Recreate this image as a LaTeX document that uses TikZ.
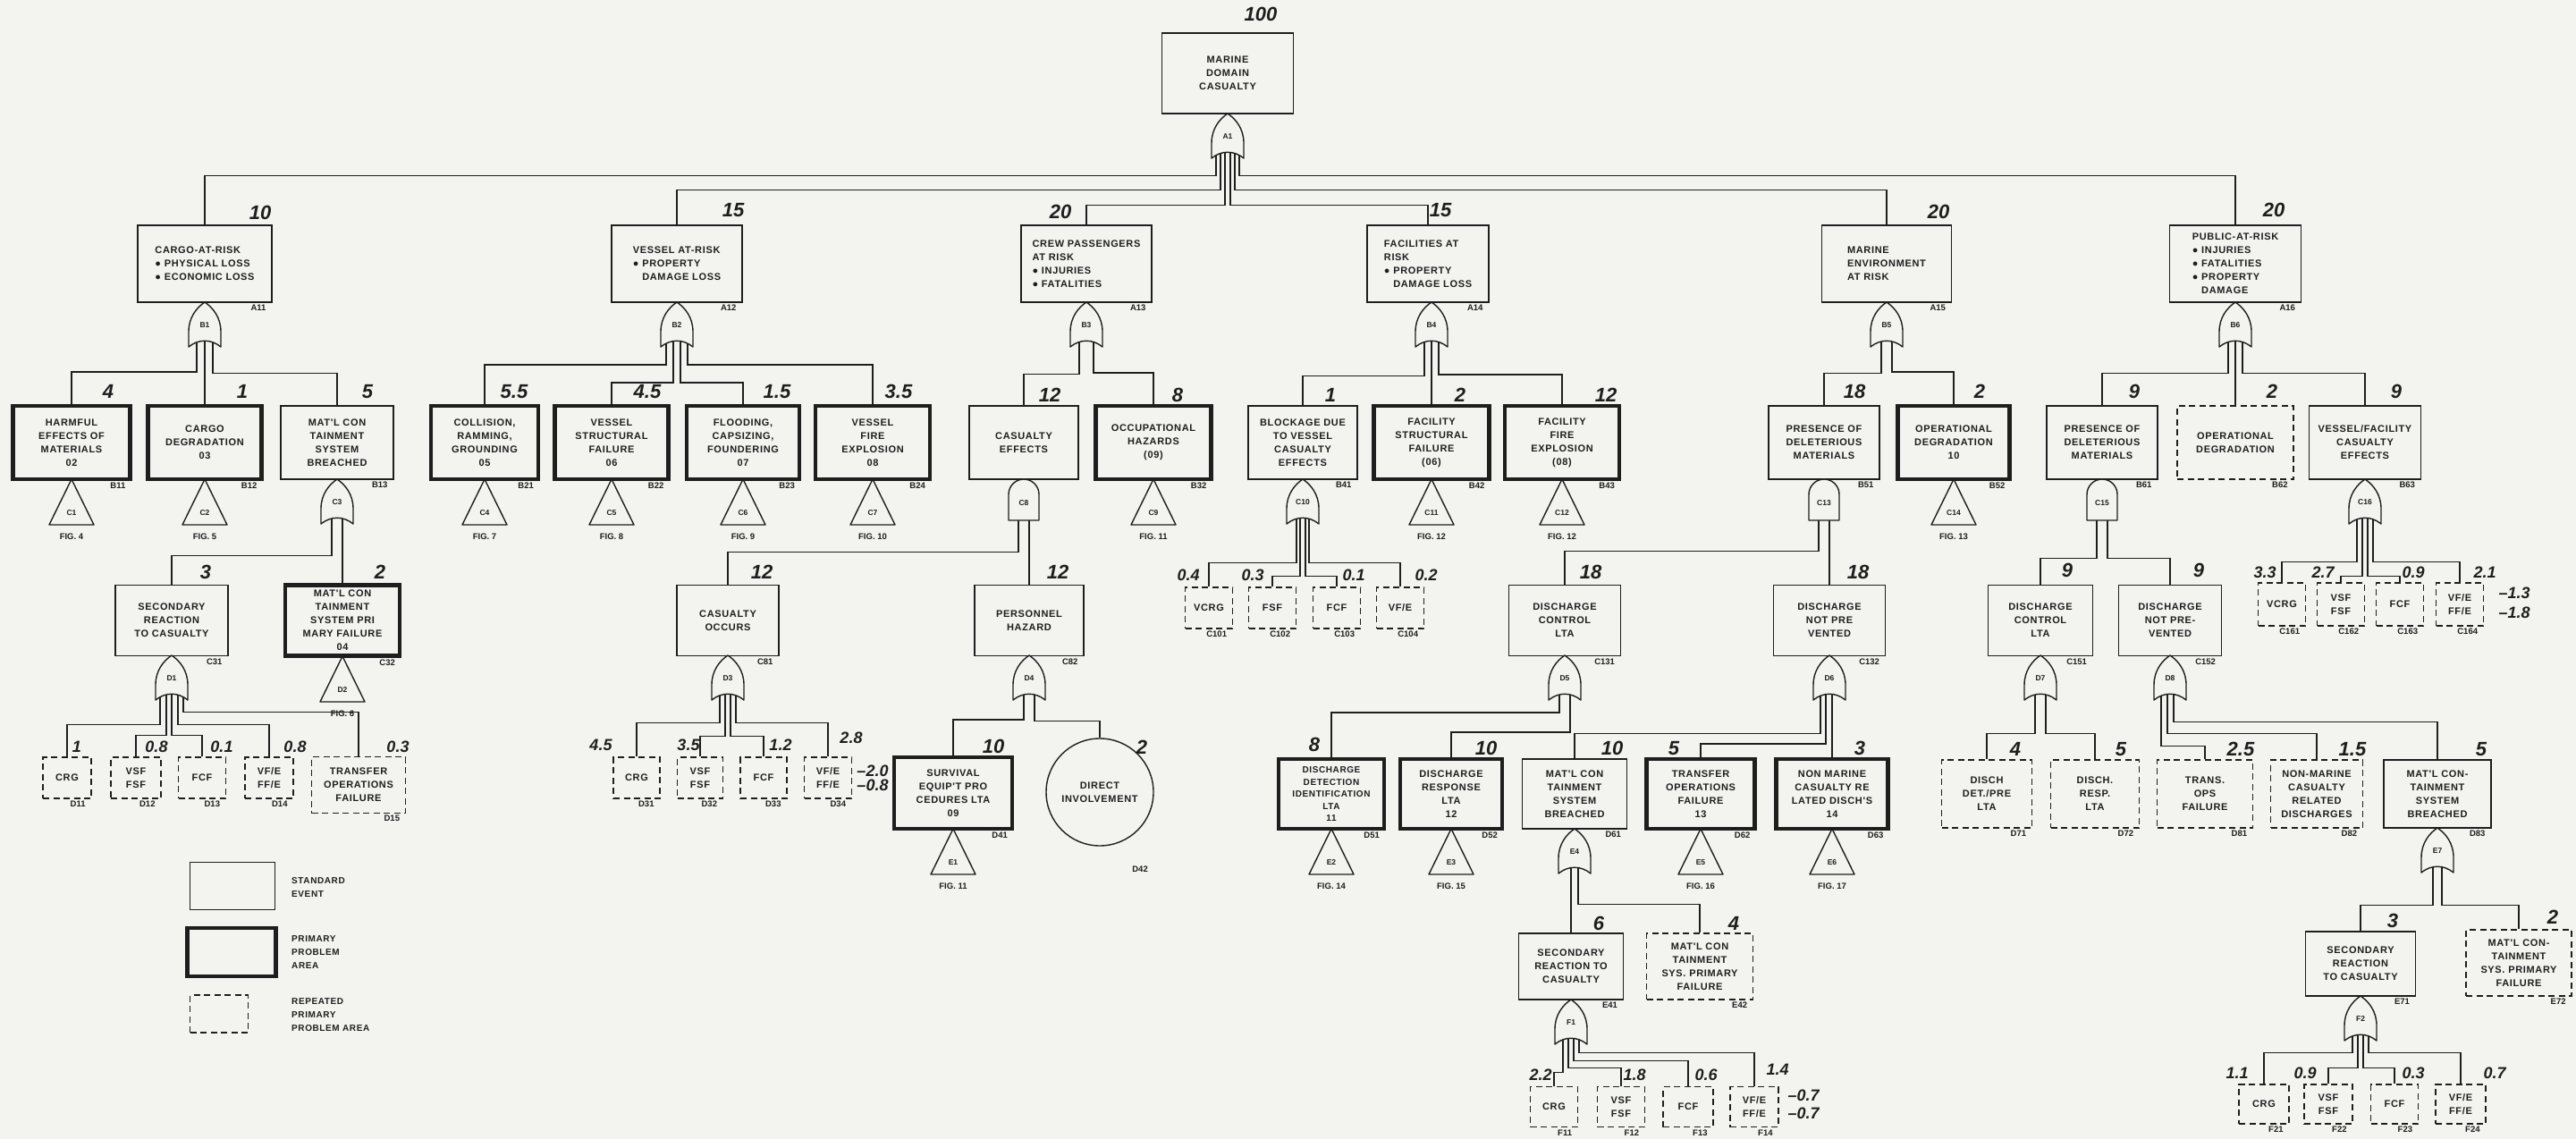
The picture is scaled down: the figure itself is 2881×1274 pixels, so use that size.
\documentclass[tikz,border=0pt]{standalone}
\usepackage{fontspec}
\setmainfont{Liberation Sans}
\newfontfamily\boxfont[LetterSpace=6]{Liberation Sans}
\newfontfamily\handfont{Liberation Sans}
\usepackage{tikz}
\definecolor{ink}{RGB}{30,30,30}
\definecolor{paper}{RGB}{243,243,240}
\pgfdeclarelayer{paperlayer}
\pgfdeclarelayer{wires}
\pgfsetlayers{paperlayer,wires,main}

% OR gate: name, x and y of its centre
\newcommand{\orgate}[3]{%
  \draw[gate] (#2-18,#3+25) -- (#2-18,#3+8)
    .. controls (#2-18,#3-8) and (#2-9,#3-19) .. (#2,#3-25)
    .. controls (#2+9,#3-19) and (#2+18,#3-8) .. (#2+18,#3+8)
    -- (#2+18,#3+25) .. controls (#2+7,#3+16) and (#2-7,#3+16) .. cycle;
  \node[gatelab] (#1) at (#2,#3+1) {#1};
  \coordinate (#1-out) at (#2,#3+12);}
% AND gate: name, x and y of its centre
\newcommand{\andgate}[3]{%
  \draw[gate] (#2-17,#3+23) -- (#2-17,#3-6)
    arc[start angle=180, end angle=0, radius=17pt] -- (#2+17,#3+23) -- cycle;
  \node[gatelab] (#1) at (#2,#3+4) {#1};
  \coordinate (#1-out) at (#2,#3+12);}
% transfer triangle: name, x and y of the apex, figure
\newcommand{\xfer}[4]{%
  \draw[gate] (#2,#3) -- (#2+25,#3+51) -- (#2-25,#3+51) -- cycle;
  \node[gatelab] (#1) at (#2,#3+38) {#1};
  \node[figlab] (#1-fig) at (#2,#3+64) {#4};}
% leg of a gate: gate, offset, height of the bus above the event, event
\newcommand{\gateleg}[4]{%
  \begin{pgfonlayer}{wires}
    \draw[wire] ([xshift=#2pt]#1-out) |- ([yshift=#3pt]#4.north) -- (#4.north);
  \end{pgfonlayer}}

\begin{document}
\begin{tikzpicture}[x=1pt, y=-1pt,
  wire/.style={draw=ink, line width=1.3pt},
  gate/.style={draw=ink, line width=1.4pt, fill=paper, line join=round},
  ev/.style={draw=ink, line width=1.4pt, inner sep=3pt, align=center, text=ink,
    font=\boxfont\bfseries\fontsize{11}{15}\selectfont},
  ppa/.style={ev, line width=4.2pt},
  rep/.style={ev, line width=1.5pt, dash pattern=on 7pt off 4.5pt},
  sz/.style 2 args={minimum width=#1pt, minimum height=#2pt},
  tag/.style={anchor=north east, xshift=-5pt, inner sep=2pt, text=ink,
    font=\bfseries\fontsize{9.5}{9.5}\selectfont},
  code/.style={label={[tag, name=#1-tag]south east:#1}},
  gatelab/.style={inner sep=0pt, text=ink, font=\bfseries\fontsize{8.5}{8.5}\selectfont},
  figlab/.style={inner sep=0pt, text=ink, font=\bfseries\fontsize{9.5}{9.5}\selectfont},
  hand/.style={inner sep=0pt, text=ink, font=\handfont\bfseries\itshape\fontsize{22}{22}\selectfont},
  handsm/.style={hand, font=\handfont\bfseries\itshape\fontsize{18}{18}\selectfont},
  keytext/.style={anchor=west, align=left, inner sep=0pt, text=ink,
    font=\boxfont\bfseries\fontsize{10}{15}\selectfont}]
\useasboundingbox (0,0) rectangle (2881,1274);
\begin{pgfonlayer}{paperlayer}
  \fill[paper] (0,0) rectangle (2881,1274);
\end{pgfonlayer}

% top event
\node[ev, sz={147}{90}] (top) at (1373,82) {MARINE\\DOMAIN\\CASUALTY};
\orgate{A1}{1373}{152}

% first level
\node[ev, sz={150}{86}, align=left, code=A11] (A11) at (229,295) {CARGO-AT-RISK\\● PHYSICAL LOSS\\● ECONOMIC LOSS};
\node[ev, sz={146}{86}, align=left, code=A12] (A12) at (757,295) {VESSEL AT-RISK\\● PROPERTY\\\phantom{● }DAMAGE LOSS};
\node[ev, sz={146}{86}, align=left, code=A13] (A13) at (1215,295) {CREW PASSENGERS\\AT RISK\\● INJURIES\\● FATALITIES};
\node[ev, sz={136}{86}, align=left, code=A14] (A14) at (1597,295) {FACILITIES AT\\RISK\\● PROPERTY\\\phantom{● }DAMAGE LOSS};
\node[ev, sz={145}{86}, align=left, code=A15] (A15) at (2110,295) {MARINE\\ENVIRONMENT\\AT RISK};
\node[ev, sz={147}{86}, align=left, code=A16] (A16) at (2500,295) {PUBLIC-AT-RISK\\● INJURIES\\● FATALITIES\\● PROPERTY\\\phantom{● }DAMAGE};
\gateleg{A1}{-13}{55}{A11}
\gateleg{A1}{-8}{39}{A12}
\gateleg{A1}{-3}{22}{A13}
\gateleg{A1}{3}{22}{A14}
\gateleg{A1}{8}{39}{A15}
\gateleg{A1}{13}{55}{A16}

\orgate{B1}{229}{363}
\orgate{B2}{757}{363}
\orgate{B3}{1215}{363}
\orgate{B4}{1601}{363}
\orgate{B5}{2110}{363}
\orgate{B6}{2500}{363}

% second level
\node[ppa, sz={131}{82}, code=B11] (B11) at (80,495) {HARMFUL\\EFFECTS OF\\MATERIALS\\02};
\node[ppa, sz={127}{82}, code=B12] (B12) at (229,495) {CARGO\\DEGRADATION\\03};
\node[ev, sz={126}{82}, code=B13] (B13) at (377,495) {MAT'L CON\\TAINMENT\\SYSTEM\\BREACHED};
\node[ppa, sz={120}{82}, code=B21] (B21) at (542,495) {COLLISION,\\RAMMING,\\GROUNDING\\05};
\node[ppa, sz={127}{82}, code=B22] (B22) at (684,495) {VESSEL\\STRUCTURAL\\FAILURE\\06};
\node[ppa, sz={126}{82}, code=B23] (B23) at (831,495) {FLOODING,\\CAPSIZING,\\FOUNDERING\\07};
\node[ppa, sz={128}{82}, code=B24] (B24) at (976,495) {VESSEL\\FIRE\\EXPLOSION\\08};
\node[ev, sz={122}{82}] (B31) at (1145,495) {CASUALTY\\EFFECTS};
\node[ppa, sz={129}{82}, code=B32] (B32) at (1290,495) {OCCUPATIONAL\\HAZARDS\\(09)};
\node[ev, sz={122}{82}, code=B41] (B41) at (1457,495) {BLOCKAGE DUE\\TO VESSEL\\CASUALTY\\EFFECTS};
\node[ppa, sz={129}{82}, code=B42] (B42) at (1601,495) {FACILITY\\STRUCTURAL\\FAILURE\\(06)};
\node[ppa, sz={128}{82}, code=B43] (B43) at (1747,495) {FACILITY\\FIRE\\EXPLOSION\\(08)};
\node[ev, sz={124}{82}, code=B51] (B51) at (2040,495) {PRESENCE OF\\DELETERIOUS\\MATERIALS};
\node[ppa, sz={125}{82}, code=B52] (B52) at (2185,495) {OPERATIONAL\\DEGRADATION\\10};
\node[ev, sz={124}{82}, code=B61] (B61) at (2351,495) {PRESENCE OF\\DELETERIOUS\\MATERIALS};
\node[rep, sz={130}{82}, code=B62] (B62) at (2500,495) {OPERATIONAL\\DEGRADATION};
\node[ev, sz={125}{82}, code=B63] (B63) at (2645,495) {VESSEL/FACILITY\\CASUALTY\\EFFECTS};
\gateleg{B1}{-9}{36}{B11}
\gateleg{B1}{0}{0}{B12}
\gateleg{B1}{9}{36}{B13}
\gateleg{B2}{-12}{44}{B21}
\gateleg{B2}{-4}{24}{B22}
\gateleg{B2}{4}{24}{B23}
\gateleg{B2}{12}{44}{B24}
\gateleg{B3}{-8}{35}{B31}
\gateleg{B3}{8}{35}{B32}
\gateleg{B4}{-8}{33}{B41}
\gateleg{B4}{0}{0}{B42}
\gateleg{B4}{8}{33}{B43}
\gateleg{B5}{-6}{36}{B51}
\gateleg{B5}{6}{36}{B52}
\gateleg{B6}{-8}{36}{B61}
\gateleg{B6}{0}{0}{B62}
\gateleg{B6}{8}{36}{B63}

\xfer{C1}{80}{536}{FIG. 4}
\xfer{C2}{229}{536}{FIG. 5}
\xfer{C4}{542}{536}{FIG. 7}
\xfer{C5}{684}{536}{FIG. 8}
\xfer{C6}{831}{536}{FIG. 9}
\xfer{C7}{976}{536}{FIG. 10}
\xfer{C9}{1290}{536}{FIG. 11}
\xfer{C11}{1601}{536}{FIG. 12}
\xfer{C12}{1747}{536}{FIG. 12}
\xfer{C14}{2185}{536}{FIG. 13}
\orgate{C3}{377}{561}
\andgate{C8}{1145}{559}
\orgate{C10}{1457}{561}
\andgate{C13}{2040}{559}
\andgate{C15}{2351}{559}
\orgate{C16}{2645}{561}

% third level
\node[ev, sz={126}{79}, code=C31] (C31) at (192,694) {SECONDARY\\REACTION\\TO CASUALTY};
\node[ppa, sz={128}{79}, code=C32] (C32) at (383,694) {MAT'L CON\\TAINMENT\\SYSTEM PRI\\MARY FAILURE\\04};
\node[ev, sz={114}{79}, code=C81] (C81) at (814,694) {CASUALTY\\OCCURS};
\node[ev, sz={122}{79}, code=C82] (C82) at (1151,694) {PERSONNEL\\HAZARD};
\node[rep, sz={53}{46}, code=C101] (C101) at (1352,680) {VCRG};
\node[rep, sz={53}{46}, code=C102] (C102) at (1423,680) {FSF};
\node[rep, sz={53}{46}, code=C103] (C103) at (1495,680) {FCF};
\node[rep, sz={53}{46}, code=C104] (C104) at (1566,680) {VF/E};
\node[ev, sz={125}{79}, code=C131] (C131) at (1750,694) {DISCHARGE\\CONTROL\\LTA};
\node[ev, sz={125}{79}, code=C132] (C132) at (2046,694) {DISCHARGE\\NOT PRE\\VENTED};
\node[ev, sz={117}{79}, code=C151] (C151) at (2282,694) {DISCHARGE\\CONTROL\\LTA};
\node[ev, sz={115}{79}, code=C152] (C152) at (2427,694) {DISCHARGE\\NOT PRE-\\VENTED};
\node[rep, sz={53}{48}, code=C161] (C161) at (2552,676) {VCRG};
\node[rep, sz={53}{48}, code=C162] (C162) at (2618,676) {VSF\\FSF};
\node[rep, sz={53}{48}, code=C163] (C163) at (2684,676) {FCF};
\node[rep, sz={53}{48}, code=C164] (C164) at (2751,676) {VF/E\\FF/E};
\gateleg{C3}{-6}{32}{C31}
\gateleg{C3}{6}{0}{C32}
\gateleg{C8}{-6}{36}{C81}
\gateleg{C8}{6}{0}{C82}
\gateleg{C10}{-7}{27}{C101}
\gateleg{C10}{-3}{12}{C102}
\gateleg{C10}{3}{12}{C103}
\gateleg{C10}{7}{27}{C104}
\gateleg{C13}{-6}{37}{C131}
\gateleg{C13}{6}{0}{C132}
\gateleg{C15}{-6}{29}{C151}
\gateleg{C15}{6}{29}{C152}
\gateleg{C16}{-9}{23}{C161}
\gateleg{C16}{-3}{7}{C162}
\gateleg{C16}{3}{7}{C163}
\gateleg{C16}{9}{23}{C164}

\orgate{D1}{192}{758}
\xfer{D2}{383}{734}{FIG. 6}
\orgate{D3}{814}{758}
\orgate{D4}{1151}{758}
\orgate{D5}{1750}{758}
\orgate{D6}{2046}{758}
\orgate{D7}{2282}{758}
\orgate{D8}{2427}{758}

% fourth level
\node[rep, sz={54}{46}, code=D11] (D11) at (75,870) {CRG};
\node[rep, sz={56}{46}, code=D12] (D12) at (152,870) {VSF\\FSF};
\node[rep, sz={53}{46}, code=D13] (D13) at (226,870) {FCF};
\node[rep, sz={54}{46}, code=D14] (D14) at (301,870) {VF/E\\FF/E};
\node[rep, sz={105}{63}, code=D15] (D15) at (401,878) {TRANSFER\\OPERATIONS\\FAILURE};
\node[rep, sz={52}{46}, code=D31] (D31) at (712,870) {CRG};
\node[rep, sz={51}{46}, code=D32] (D32) at (783,870) {VSF\\FSF};
\node[rep, sz={52}{46}, code=D33] (D33) at (854,870) {FCF};
\node[rep, sz={53}{46}, code=D34] (D34) at (926,870) {VF/E\\FF/E};
\node[ppa, sz={132}{80}, code=D41] (D41) at (1066,887) {SURVIVAL\\EQUIP'T PRO\\CEDURES LTA\\09};
\node[ev, circle, minimum size=120pt, inner sep=0pt] (D42) at (1230,886) {DIRECT\\INVOLVEMENT};
\node[tag] (D42-tag) at (1291,967) {D42};
\node[ppa, sz={118}{78}, code=D51, font=\boxfont\bfseries\fontsize{10}{13.5}\selectfont] (D51) at (1489,888) {DISCHARGE\\DETECTION\\IDENTIFICATION\\LTA\\11};
\node[ppa, sz={114}{78}, code=D52] (D52) at (1623,888) {DISCHARGE\\RESPONSE\\LTA\\12};
\node[ev, sz={117}{78}, code=D61] (D61) at (1761,888) {MAT'L CON\\TAINMENT\\SYSTEM\\BREACHED};
\node[ppa, sz={121}{78}, code=D62] (D62) at (1902,888) {TRANSFER\\OPERATIONS\\FAILURE\\13};
\node[ppa, sz={125}{78}, code=D63] (D63) at (2049,888) {NON MARINE\\CASUALTY RE\\LATED DISCH'S\\14};
\node[rep, sz={101}{76}, code=D71] (D71) at (2222,888) {DISCH\\DET./PRE\\LTA};
\node[rep, sz={99}{76}, code=D72] (D72) at (2343,888) {DISCH.\\RESP.\\LTA};
\node[rep, sz={107}{76}, code=D81] (D81) at (2466,888) {TRANS.\\OPS\\FAILURE};
\node[rep, sz={103}{76}, code=D82] (D82) at (2591,888) {NON-MARINE\\CASUALTY\\RELATED\\DISCHARGES};
\node[ev, sz={120}{76}, code=D83] (D83) at (2726,888) {MAT'L CON-\\TAINMENT\\SYSTEM\\BREACHED};
\gateleg{D1}{-13}{36}{D11}
\gateleg{D1}{-6}{24}{D12}
\gateleg{D1}{0}{24}{D13}
\gateleg{D1}{7}{36}{D14}
\gateleg{D1}{13}{49}{D15}
\gateleg{D3}{-9}{38}{D31}
\gateleg{D3}{-3}{23}{D32}
\gateleg{D3}{3}{23}{D33}
\gateleg{D3}{9}{38}{D34}
\gateleg{D4}{-6}{40}{D41}
\gateleg{D4}{6}{19}{D42}
\gateleg{D5}{-6}{50}{D51}
\gateleg{D5}{6}{28}{D52}
\gateleg{D6}{-10}{28}{D61}
\gateleg{D6}{-4}{15}{D62}
\gateleg{D6}{3}{0}{D63}
\gateleg{D7}{-6}{29}{D71}
\gateleg{D7}{6}{29}{D72}
\gateleg{D8}{-10}{15}{D81}
\gateleg{D8}{-3}{29}{D82}
\gateleg{D8}{4}{42}{D83}

\xfer{E1}{1066}{927}{FIG. 11}
\xfer{E2}{1489}{927}{FIG. 14}
\xfer{E3}{1623}{927}{FIG. 15}
\xfer{E5}{1902}{927}{FIG. 16}
\xfer{E6}{2049}{927}{FIG. 17}
\orgate{E4}{1761}{952}
\orgate{E7}{2726}{951}

% fifth level
\node[ev, sz={117}{74}, code=E41] (E41) at (1757,1081) {SECONDARY\\REACTION TO\\CASUALTY};
\node[rep, sz={119}{74}, code=E42] (E42) at (1901,1081) {MAT'L CON\\TAINMENT\\SYS. PRIMARY\\FAILURE};
\node[ev, sz={123}{72}, code=E71] (E71) at (2640,1078) {SECONDARY\\REACTION\\TO CASUALTY};
\node[rep, sz={118}{74}, code=E72] (E72) at (2817,1077) {MAT'L CON-\\TAINMENT\\SYS. PRIMARY\\FAILURE};
\gateleg{E4}{-4}{0}{E41}
\gateleg{E4}{4}{32}{E42}
\gateleg{E7}{-5}{29}{E71}
\gateleg{E7}{5}{27}{E72}

\orgate{F1}{1757}{1143}
\orgate{F2}{2640}{1139}

% bottom level
\node[rep, sz={53}{45}, code=F11] (F11) at (1738,1238) {CRG};
\node[rep, sz={53}{45}, code=F12] (F12) at (1813,1238) {VSF\\FSF};
\node[rep, sz={56}{45}, code=F13] (F13) at (1888,1238) {FCF};
\node[rep, sz={54}{45}, code=F14] (F14) at (1962,1238) {VF/E\\FF/E};
\node[rep, sz={56}{44}, code=F21] (F21) at (2532,1235) {CRG};
\node[rep, sz={54}{44}, code=F22] (F22) at (2604,1235) {VSF\\FSF};
\node[rep, sz={53}{44}, code=F23] (F23) at (2678,1235) {FCF};
\node[rep, sz={56}{44}, code=F24] (F24) at (2752,1235) {VF/E\\FF/E};
\gateleg{F1}{-9}{15}{F11}
\gateleg{F1}{-3}{20}{F12}
\gateleg{F1}{3}{28}{F13}
\gateleg{F1}{9}{37}{F14}
\gateleg{F2}{-9}{35}{F21}
\gateleg{F2}{-3}{18}{F22}
\gateleg{F2}{3}{18}{F23}
\gateleg{F2}{9}{35}{F24}

% key
\node[ev, sz={95}{53}] (key-std) at (260,991) {};
\node[ppa, sz={99}{54}] (key-ppa) at (259,1065) {};
\node[rep, sz={65}{42}] (key-rep) at (245,1134) {};
\node[keytext] (key-std-t) at (326,992) {STANDARD\\EVENT};
\node[keytext] (key-ppa-t) at (326,1065) {PRIMARY\\PROBLEM\\AREA};
\node[keytext] (key-rep-t) at (326,1135) {REPEATED\\PRIMARY\\PROBLEM AREA};

% handwritten weights
\node[hand] (w-top) at (1410,16) {100};
\node[hand] (w-A11) at (291,238) {10};
\node[hand] (w-A12) at (820,235) {15};
\node[hand] (w-A13) at (1186,237) {20};
\node[hand] (w-A14) at (1611,235) {15};
\node[hand] (w-A15) at (2168,237) {20};
\node[hand] (w-A16) at (2543,235) {20};
\node[hand] (w-B11) at (121,438) {4};
\node[hand] (w-B12) at (271,438) {1};
\node[hand] (w-B13) at (411,438) {5};
\node[hand] (w-B21) at (575,438) {5.5};
\node[hand] (w-B22) at (724,438) {4.5};
\node[hand] (w-B23) at (869,438) {1.5};
\node[hand] (w-B24) at (1005,438) {3.5};
\node[hand] (w-B31) at (1174,442) {12};
\node[hand] (w-B32) at (1317,442) {8};
\node[hand] (w-B41) at (1488,442) {1};
\node[hand] (w-B42) at (1633,442) {2};
\node[hand] (w-B43) at (1796,442) {12};
\node[hand] (w-B51) at (2074,438) {18};
\node[hand] (w-B52) at (2214,438) {2};
\node[hand] (w-B61) at (2387,438) {9};
\node[hand] (w-B62) at (2541,438) {2};
\node[hand] (w-B63) at (2680,438) {9};
\node[hand] (w-C31) at (230,640) {3};
\node[hand] (w-C32) at (425,640) {2};
\node[hand] (w-C81) at (852,640) {12};
\node[hand] (w-C82) at (1183,640) {12};
\node[handsm] (w-C101) at (1329,643) {0.4};
\node[handsm] (w-C102) at (1401,643) {0.3};
\node[handsm] (w-C103) at (1514,643) {0.1};
\node[handsm] (w-C104) at (1595,643) {0.2};
\node[hand] (w-C131) at (1779,640) {18};
\node[hand] (w-C132) at (2078,640) {18};
\node[hand] (w-C151) at (2312,638) {9};
\node[hand] (w-C152) at (2459,638) {9};
\node[handsm] (w-C161) at (2533,640) {3.3};
\node[handsm] (w-C162) at (2598,640) {2.7};
\node[handsm] (w-C163) at (2699,640) {0.9};
\node[handsm] (w-C164) at (2779,640) {2.1};
\node[handsm] (w-C164a) at (2812,663) {\textendash1.3};
\node[handsm] (w-C164b) at (2812,685) {\textendash1.8};
\node[handsm] (w-D11) at (86,835) {1};
\node[handsm] (w-D12) at (175,835) {0.8};
\node[handsm] (w-D13) at (248,835) {0.1};
\node[handsm] (w-D14) at (330,835) {0.8};
\node[handsm] (w-D15) at (445,835) {0.3};
\node[handsm] (w-D31) at (672,833) {4.5};
\node[handsm] (w-D32) at (770,833) {3.5};
\node[handsm] (w-D33) at (873,833) {1.2};
\node[handsm] (w-D34) at (952,825) {2.8};
\node[handsm] (w-D34a) at (976,862) {\textendash2.0};
\node[handsm] (w-D34b) at (976,878) {\textendash0.8};
\node[hand] (w-D41) at (1111,835) {10};
\node[hand] (w-D42) at (1277,836) {2};
\node[hand] (w-D51) at (1470,833) {8};
\node[hand] (w-D52) at (1662,837) {10};
\node[hand] (w-D61) at (1803,837) {10};
\node[hand] (w-D62) at (1872,837) {5};
\node[hand] (w-D63) at (2080,837) {3};
\node[hand] (w-D71) at (2254,838) {4};
\node[hand] (w-D72) at (2372,838) {5};
\node[hand] (w-D81) at (2506,838) {2.5};
\node[hand] (w-D82) at (2631,838) {1.5};
\node[hand] (w-D83) at (2775,838) {5};
\node[hand] (w-E41) at (1788,1033) {6};
\node[hand] (w-E42) at (1939,1033) {4};
\node[hand] (w-E71) at (2676,1030) {3};
\node[hand] (w-E72) at (2855,1026) {2};
\node[handsm] (w-F11) at (1723,1202) {2.2};
\node[handsm] (w-F12) at (1828,1202) {1.8};
\node[handsm] (w-F13) at (1908,1202) {0.6};
\node[handsm] (w-F14) at (1988,1196) {1.4};
\node[handsm] (w-F14a) at (2017,1225) {\textendash0.7};
\node[handsm] (w-F14b) at (2017,1245) {\textendash0.7};
\node[handsm] (w-F21) at (2502,1200) {1.1};
\node[handsm] (w-F22) at (2578,1200) {0.9};
\node[handsm] (w-F23) at (2699,1200) {0.3};
\node[handsm] (w-F24) at (2790,1200) {0.7};
\end{tikzpicture}
\end{document}
